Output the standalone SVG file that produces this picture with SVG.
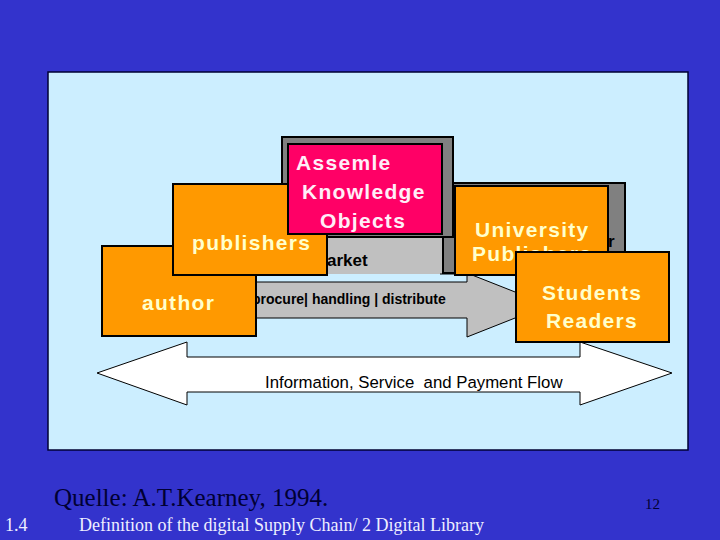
<svg xmlns="http://www.w3.org/2000/svg" width="720" height="540" viewBox="0 0 720 540">
<style>
.box{fill:#ff9900;stroke:#000;stroke-width:2}
.gray{fill:#808080;stroke:#000;stroke-width:2}
.pink{fill:#ff0066;stroke:#000;stroke-width:2}
.lbl{font-family:"Liberation Sans",Arial,sans-serif;font-weight:bold;font-size:21px;letter-spacing:1.3px;fill:#ffffcc}
.plbl{fill:#ffeef8}
.blk{font-family:"Liberation Sans",Arial,sans-serif;font-weight:bold;fill:#000}
.arr{fill:#c0c0c0;stroke:#000;stroke-width:1}
.serif{font-family:"Liberation Serif","Times New Roman",serif}
</style>
<rect x="0" y="0" width="720" height="540" fill="#3333cc"/>
<rect id="panel" x="48" y="72" width="640" height="378" fill="#cceeff" stroke="#000033" stroke-width="1.5"/>
<g id="connectors">
  <rect x="300" y="237" width="170" height="37" fill="#c0c0c0"/>
  <line x1="440" y1="274" x2="470" y2="274" stroke="#000" stroke-width="1"/>
  <polygon class="arr" points="250,282 467,282 467,273 548,305 467,337 467,318 250,318"/>
  <polygon points="97,373 187,342 187,357 580,357 580,342 672,373 580,405 580,392 187,392 187,405" fill="#fff" stroke="#000" stroke-width="1"/>
  <text class="blk" x="327" y="266" font-size="17">arket</text>
  <text class="blk" x="252" y="304" font-size="14">procure| handling | distribute</text>
  <text x="265" y="388" font-family="'Liberation Sans',Arial,sans-serif" font-size="16.8" fill="#000" xml:space="preserve" style="white-space:pre">Information, Service  and Payment Flow</text>
</g>
<g id="university">
  <rect class="gray" x="443" y="183" width="182" height="90"/>
  <text class="blk" x="608" y="247" font-size="17">r</text>
  <rect class="box" x="455" y="186" width="153" height="89"/>
  <text class="lbl" x="475" y="237">University</text>
  <text class="lbl" x="472" y="261">Publishers</text>
</g>
<g id="author">
  <rect class="box" x="102" y="246" width="154" height="90"/>
  <text class="lbl" x="142" y="310">author</text>
</g>
<g id="publishers">
  <rect class="box" x="173" y="184" width="154" height="91"/>
  <text class="lbl" x="192" y="250">publishers</text>
</g>
<g id="assemle">
  <path d="M282,137 H453 V237 H327 V184 H282 Z" class="gray"/>
  <rect class="pink" x="288" y="144" width="154" height="90"/>
  <text class="lbl plbl" x="296" y="170">Assemle</text>
  <text class="lbl plbl" x="302" y="199">Knowledge</text>
  <text class="lbl plbl" x="320" y="228">Objects</text>
</g>
<g id="students">
  <rect class="box" x="516" y="252" width="153" height="90"/>
  <text class="lbl" x="542" y="300">Students</text>
  <text class="lbl" x="546" y="328">Readers</text>
</g>
<g id="footer">
  <text class="serif" x="54" y="506" font-size="25" fill="#000033">Quelle: A.T.Kearney, 1994.</text>
  <text class="serif" x="645" y="509" font-size="15" fill="#000033">12</text>
  <text class="serif" x="5" y="531" font-size="18" fill="#eeeeff">1.4</text>
  <text class="serif" x="79" y="531" font-size="18" fill="#eeeeff">Definition of the digital Supply Chain/ 2 Digital Library</text>
</g>
</svg>
